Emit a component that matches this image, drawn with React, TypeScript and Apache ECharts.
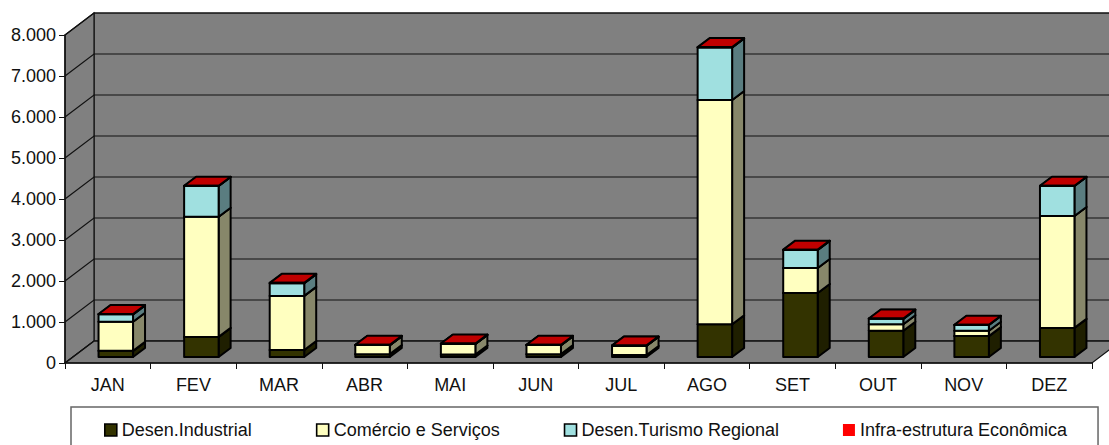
import React, { useEffect, useRef } from "react";
import * as echarts from "echarts";

const categories = ["JAN", "FEV", "MAR", "ABR", "MAI", "JUN", "JUL", "AGO", "SET", "OUT", "NOV", "DEZ"];
const industrial = [150, 490, 170, 70, 60, 70, 50, 800, 1560, 640, 510, 710];
const comercio = [710, 2930, 1320, 220, 260, 220, 225, 5470, 610, 160, 130, 2730];
const turismo = [180, 750, 310, 0, 0, 0, 0, 1280, 440, 130, 140, 730];
const infra = [8, 8, 8, 8, 8, 8, 8, 8, 8, 8, 8, 8];
const gridValues = [0, 1000, 2000, 3000, 4000, 5000, 6000, 7000, 8000];

const seriesNames = ["Desen.Industrial", "Comércio e Serviços", "Desen.Turismo Regional", "Infra-estrutura Econômica"];
const frontColors = ["#333300", "#FFFFC0", "#A0E0E0", "#FF0000"];
const sideColors = ["#1F1F00", "#87876A", "#5A7D80", "#A00000"];
const topColors = ["#2A2A00", "#CCCC99", "#80B3B3", "#C00000"];
const legendBorders = [1.6, 1.6, 1.6, 0];

const FONT = "Liberation Sans";
const FONT_SIZE = 18;
// Depth of the floor, and of the bars within it, in pixels
const WALL_DX = 29;
const WALL_DY = -22;
const BAR_OFFSET_X = 8;
const BAR_OFFSET_Y = -6;
const BAR_DX = 12;
const BAR_DY = -9;
const BAR_RATIO = 0.403;

const stacks = [industrial, comercio, turismo, infra];

function stackedData(seriesIndex: number) {
  return categories.map((_, i) => {
    let bottom = 0;
    for (let s = 0; s < seriesIndex; s++) bottom += stacks[s][i];
    return [i, bottom, bottom + stacks[seriesIndex][i]];
  });
}

function barRenderer(seriesIndex: number) {
  return (_params: any, api: any) => {
    const [cx, y0] = api.coord([api.value(0), api.value(1)]);
    const [, y1] = api.coord([api.value(0), api.value(2)]);
    const band = api.size([1, 0])[0];
    const w = band * BAR_RATIO;
    const xl = cx + BAR_OFFSET_X - w / 2;
    const xr = xl + w;
    const yb = y0 + BAR_OFFSET_Y;
    const yt = y1 + BAR_OFFSET_Y;
    const stroke = { stroke: "#000", lineWidth: 2, lineJoin: "round" };
    return {
      type: "group",
      children: [
        {
          type: "polygon",
          shape: { points: [[xr, yb], [xr + BAR_DX, yb + BAR_DY], [xr + BAR_DX, yt + BAR_DY], [xr, yt]] },
          style: { fill: sideColors[seriesIndex], ...stroke },
        },
        {
          type: "polygon",
          shape: { points: [[xl, yt], [xr, yt], [xr + BAR_DX, yt + BAR_DY], [xl + BAR_DX, yt + BAR_DY]] },
          style: { fill: topColors[seriesIndex], ...stroke },
        },
        {
          type: "rect",
          shape: { x: xl, y: yt, width: w, height: yb - yt },
          style: { fill: frontColors[seriesIndex], ...stroke },
        },
      ],
    };
  };
}

export default function App() {
  const ref = useRef<HTMLDivElement>(null);
  useEffect(() => {
    const chart = echarts.init(ref.current!, undefined, { renderer: "svg" });
    const wallSeries = {
      type: "custom",
      silent: true,
      z: 1,
      clip: false,
      data: [[0, 0]],
      renderItem: (params: any) => {
        const { x, y, width: w, height: h } = params.coordSys;
        const fill = { fill: "#808080", stroke: "#111", lineWidth: 1.2 };
        return {
          type: "group",
          children: [
            { type: "polygon", shape: { points: [[x + WALL_DX, y + WALL_DY], [x + w + WALL_DX, y + WALL_DY], [x + w + WALL_DX, y + h + WALL_DY], [x + WALL_DX, y + h + WALL_DY]] }, style: fill },
            { type: "polygon", shape: { points: [[x, y], [x + WALL_DX, y + WALL_DY], [x + WALL_DX, y + h + WALL_DY], [x, y + h]] }, style: fill },
            { type: "polygon", shape: { points: [[x, y + h], [x + w, y + h], [x + w + WALL_DX, y + h + WALL_DY], [x + WALL_DX, y + h + WALL_DY]] }, style: fill },
          ],
        };
      },
    };
    const gridSeries = {
      type: "custom",
      silent: true,
      z: 2,
      clip: false,
      data: gridValues.map((v) => [0, v]),
      renderItem: (params: any, api: any) => {
        const { x, width: w } = params.coordSys;
        const py = api.coord([0, api.value(1)])[1];
        return {
          type: "polyline",
          shape: { points: [[x, py], [x + WALL_DX, py + WALL_DY], [x + w + WALL_DX, py + WALL_DY]] },
          style: { fill: "none", stroke: "#111", lineWidth: 1.2 },
        };
      },
    };
    chart.setOption({
      animation: false,
      backgroundColor: "#fff",
      textStyle: { fontFamily: FONT },
      grid: { left: 65, top: 35, width: 1027, height: 328, containLabel: false },
      xAxis: {
        type: "category",
        data: categories,
        boundaryGap: true,
        z: 5,
        axisLine: { lineStyle: { color: "#111", width: 1.5 } },
        axisTick: { show: true, length: 6, alignWithLabel: false, lineStyle: { color: "#111", width: 1 } },
        axisLabel: { color: "#111", fontFamily: FONT, fontSize: FONT_SIZE, margin: 13, interval: 0 },
        splitLine: { show: false },
      },
      yAxis: {
        type: "value",
        min: 0,
        max: 8000,
        interval: 1000,
        z: 5,
        axisLine: { show: true, lineStyle: { color: "#111", width: 1.5 } },
        axisTick: { show: true, length: 6, lineStyle: { color: "#111", width: 1 } },
        axisLabel: {
          color: "#111",
          fontFamily: FONT,
          fontSize: FONT_SIZE,
          margin: 9,
          formatter: (v: number) => (v === 0 ? "0" : `${v / 1000}.000`),
        },
        splitLine: { show: false },
      },
      legend: {
        data: seriesNames.map((name, i) => ({
          name,
          itemStyle: { borderColor: "#000", borderWidth: legendBorders[i] },
        })),
        left: 71,
        top: 407,
        orient: "horizontal",
        icon: "rect",
        itemWidth: 12,
        itemHeight: 12,
        itemGap: 64,
        padding: [14, 31, 14, 33],
        backgroundColor: "#fff",
        borderColor: "#666",
        borderWidth: 1.5,
        textStyle: { color: "#111", fontFamily: FONT, fontSize: FONT_SIZE },
      },
      series: [
        wallSeries,
        gridSeries,
        ...seriesNames.map((name, i) => ({
          type: "custom",
          name,
          z: 10 + i,
          clip: false,
          itemStyle: { color: frontColors[i] },
          encode: { x: 0, y: [1, 2] },
          data: stackedData(i),
          renderItem: barRenderer(i),
        })),
      ],
    });
    return () => chart.dispose();
  }, []);
  return <div ref={ref} style={{ position: "fixed", left: 0, top: 0, width: 1109, height: 445 }} />;
}
